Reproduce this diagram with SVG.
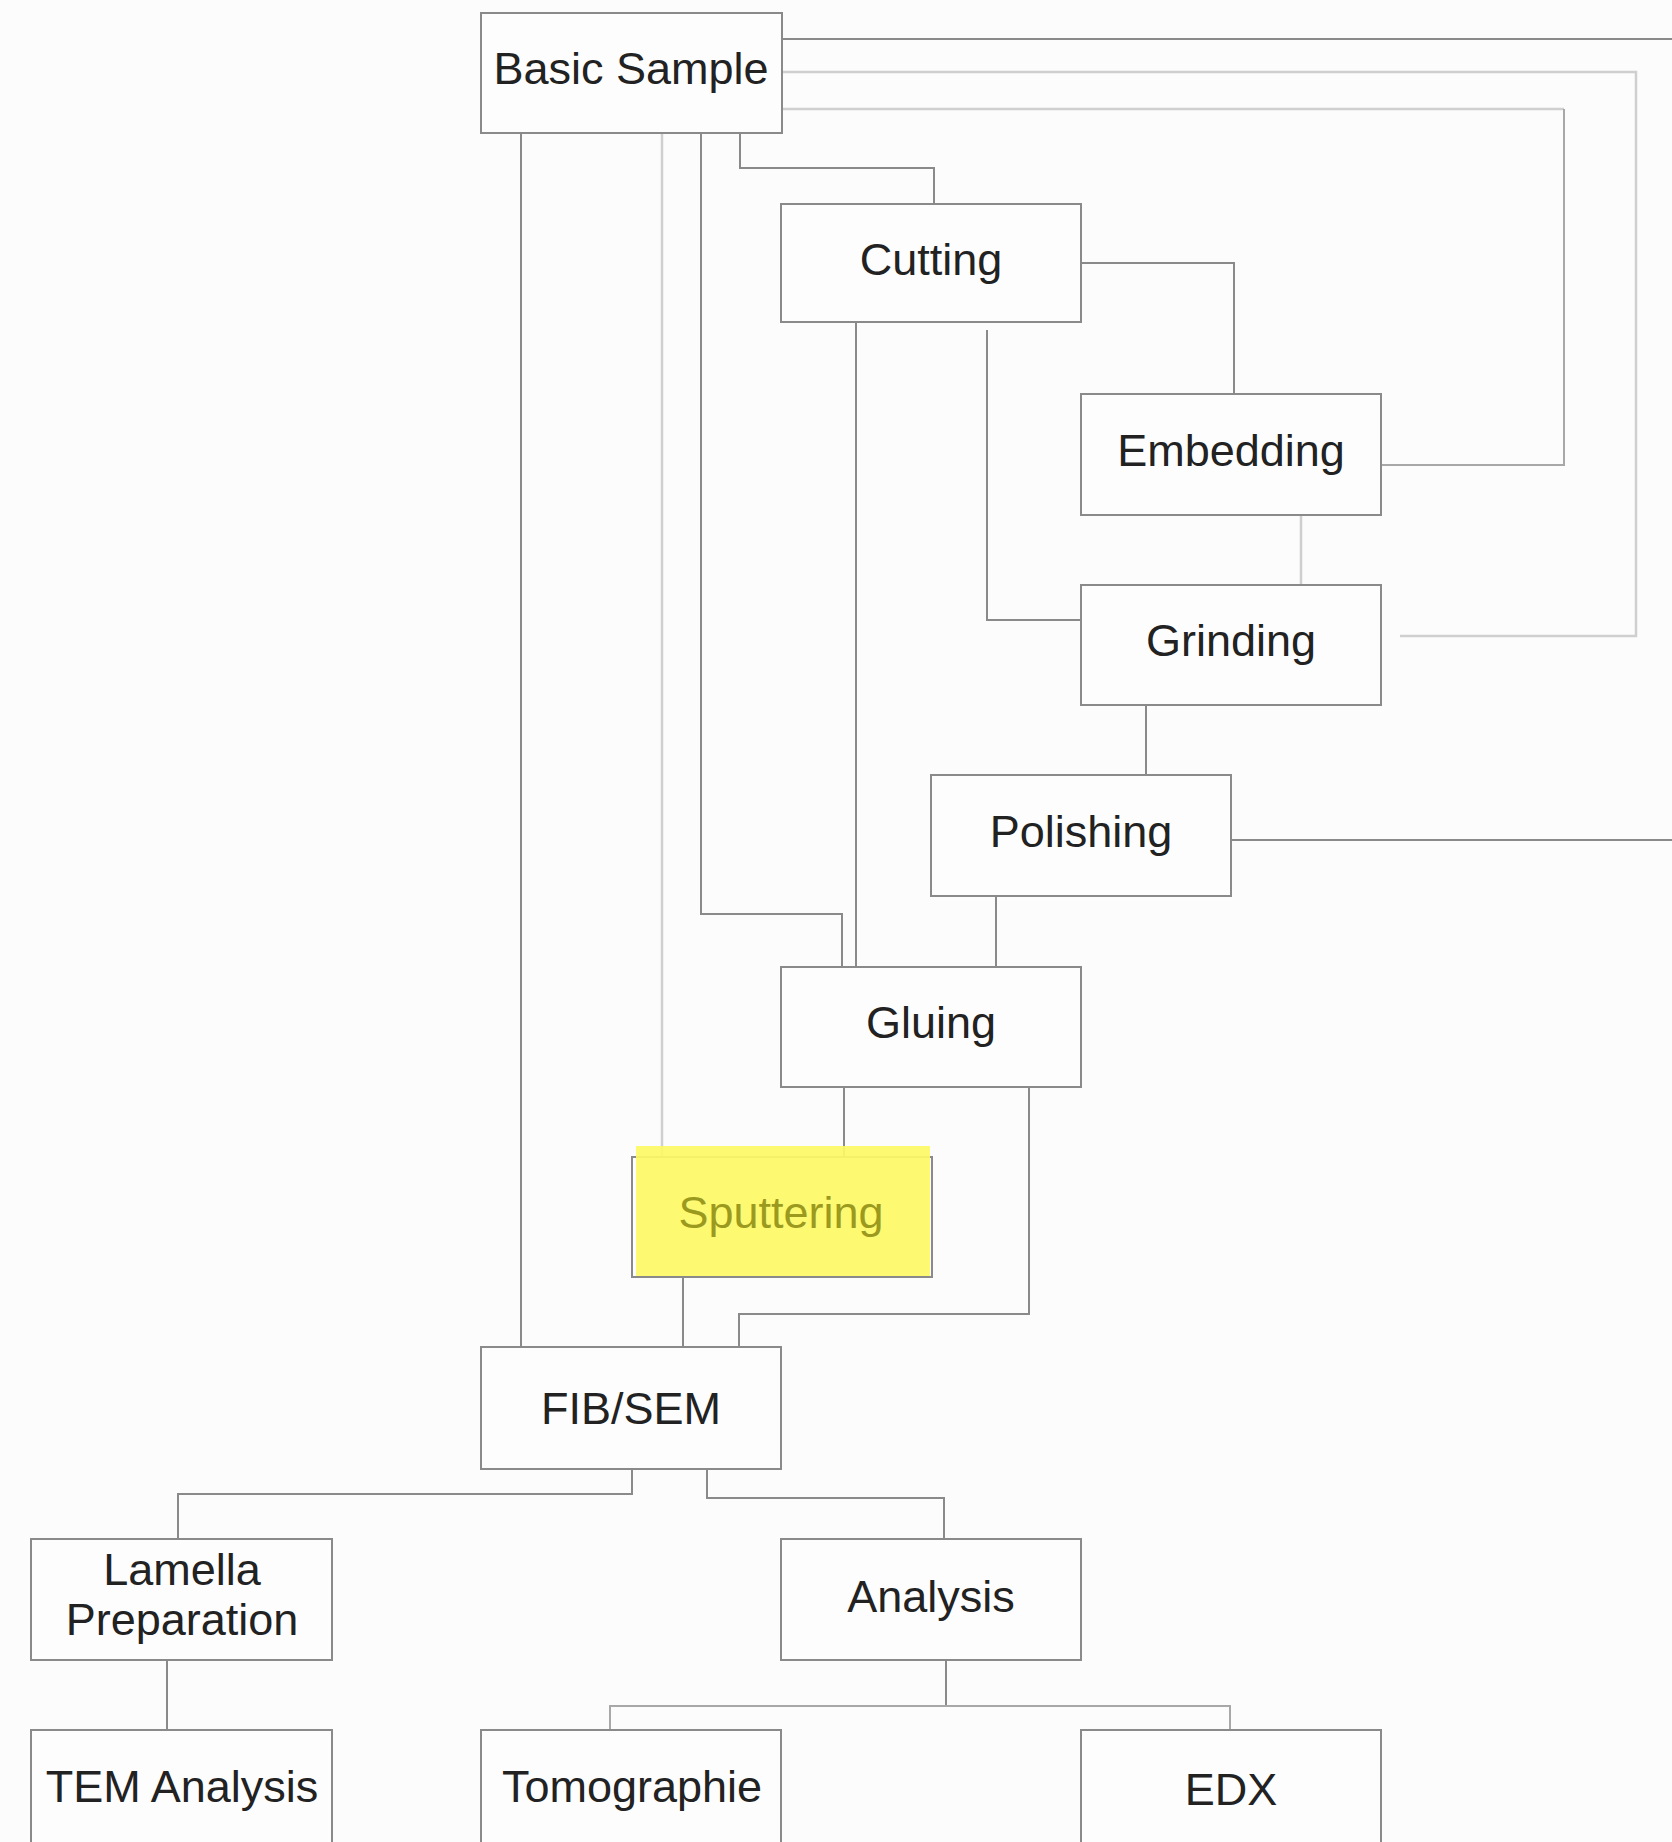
<svg xmlns="http://www.w3.org/2000/svg" width="1672" height="1842" viewBox="0 0 1672 1842">
<style>
.box{fill:#fdfdfd;stroke:#8a8a8a;stroke-width:2}
.lbl{font-family:"Liberation Sans",Arial,sans-serif;font-size:45px;fill:#222;text-anchor:middle}
.c{fill:none;stroke:#8a8a8a;stroke-width:2}
.cl{fill:none;stroke:#cfcfcf;stroke-width:2.5}
.cm{fill:none;stroke:#a8a8a8;stroke-width:2}
</style>
<rect x="0" y="0" width="1672" height="1842" fill="#fcfcfc"/>
<g id="connectors">
<path class="c" d="M782,39 H1672"/>
<path class="cl" d="M782,72 H1636 V636 H1400"/>
<path class="cl" d="M782,109 H1564"/>
<path class="cm" d="M1564,109 V465 H1381"/>
<path class="c" d="M521,133 V1347"/>
<path class="cl" d="M662,133 V1157"/>
<path class="c" d="M701,133 V914 H842 V967"/>
<path class="c" d="M740,133 V168 H934 V204"/>
<path class="c" d="M1081,263 H1234 V394"/>
<path class="c" d="M856,322 V967"/>
<path class="c" d="M987,330 V620 H1081"/>
<path class="cl" d="M1301,515 V585"/>
<path class="c" d="M1146,705 V775"/>
<path class="c" d="M1231,840 H1672"/>
<path class="c" d="M996,896 V967"/>
<path class="c" d="M844,1087 V1157"/>
<path class="c" d="M1029,1087 V1314 H739 V1347"/>
<path class="c" d="M683,1277 V1347"/>
<path class="c" d="M632,1469 V1494 H178 V1539"/>
<path class="c" d="M707,1469 V1498 H944 V1539"/>
<path class="c" d="M167,1660 V1730"/>
<path class="c" d="M946,1660 V1706"/>
<path class="cm" d="M610,1730 V1706 H1230 V1730"/>
</g>
<g id="basic-sample"><rect class="box" x="481" y="13" width="301" height="120"/><text class="lbl" x="631" y="84">Basic Sample</text></g>
<g id="cutting"><rect class="box" x="781" y="204" width="300" height="118"/><text class="lbl" x="931" y="275">Cutting</text></g>
<g id="embedding"><rect class="box" x="1081" y="394" width="300" height="121"/><text class="lbl" x="1231" y="466">Embedding</text></g>
<g id="grinding"><rect class="box" x="1081" y="585" width="300" height="120"/><text class="lbl" x="1231" y="656">Grinding</text></g>
<g id="polishing"><rect class="box" x="931" y="775" width="300" height="121"/><text class="lbl" x="1081" y="847">Polishing</text></g>
<g id="gluing"><rect class="box" x="781" y="967" width="300" height="120"/><text class="lbl" x="931" y="1038">Gluing</text></g>
<g id="sputtering"><rect class="box" x="632" y="1157" width="300" height="120"/><rect x="636" y="1146" width="294" height="130" fill="#fdfa66" fill-opacity="0.92"/><text class="lbl" x="781" y="1228" style="fill:#9c9a1e">Sputtering</text></g>
<g id="fib-sem"><rect class="box" x="481" y="1347" width="300" height="122"/><text class="lbl" x="631" y="1424">FIB/SEM</text></g>
<g id="lamella-preparation"><rect class="box" x="31" y="1539" width="301" height="121"/><text class="lbl" x="182" y="1585">Lamella</text><text class="lbl" x="182" y="1635">Preparation</text></g>
<g id="analysis"><rect class="box" x="781" y="1539" width="300" height="121"/><text class="lbl" x="931" y="1612">Analysis</text></g>
<g id="tem-analysis"><rect class="box" x="31" y="1730" width="301" height="130"/><text class="lbl" x="182" y="1802">TEM Analysis</text></g>
<g id="tomographie"><rect class="box" x="481" y="1730" width="300" height="130"/><text class="lbl" x="632" y="1802">Tomographie</text></g>
<g id="edx"><rect class="box" x="1081" y="1730" width="300" height="130"/><text class="lbl" x="1231" y="1805">EDX</text></g>
</svg>
